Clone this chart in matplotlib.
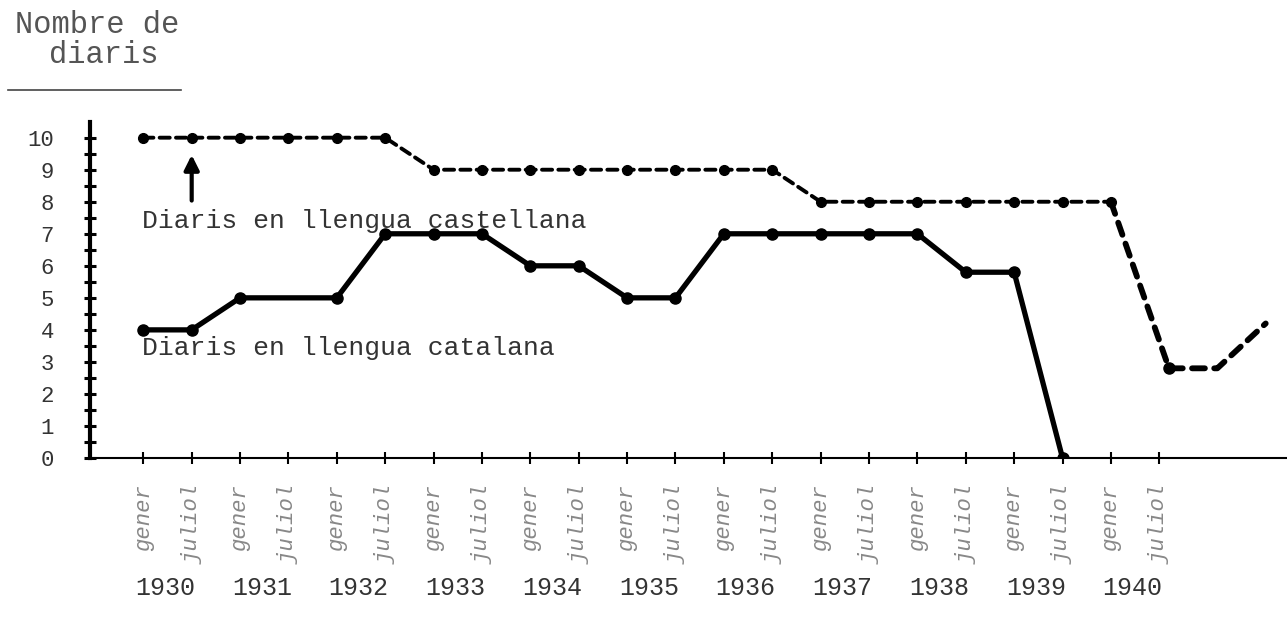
import matplotlib
matplotlib.use('Agg')
import numpy as np
from matplotlib import pyplot as plt
from matplotlib.lines import Line2D

# data (x = half-year index, 0 = gener 1930)
months = ['gener', 'juliol'] * 11
years = ['1930', '1931', '1932', '1933', '1934', '1935', '1936', '1937', '1938', '1939', '1940']

cast_x = [0, 1, 2, 3, 4, 5, 6, 7, 8, 9, 10, 11, 12, 13, 14, 15, 16, 17, 18, 19, 20]
cast_y = [10, 10, 10, 10, 10, 10, 9, 9, 9, 9, 9, 9, 9, 9, 8, 8, 8, 8, 8, 8, 8]
# tail of the castellana line after gener 1940 (drawn in heavier dashes)
tail_x = [20, 21.2, 22.2, 23.2]
tail_y = [8, 2.8, 2.8, 4.2]

cat_x = [0, 1, 2, 4, 5, 6, 7, 8, 9, 10, 11, 12, 13, 14, 15, 16, 17, 18, 19]
cat_y = [4, 4, 5, 5, 7, 7, 7, 6, 6, 5, 5, 7, 7, 7, 7, 7, 5.8, 5.8, 0]

mono = 'Liberation Mono'

fig = plt.figure(figsize=(12.87, 6.37), dpi=100)
ax = fig.add_axes([0.070, 0.281, 0.930, 0.528])

ax.plot(cast_x, cast_y, color='k', lw=2.8, ls=(0, (2.6, 1.6)),
        marker='o', ms=7, solid_capstyle='round', dash_capstyle='round')
ax.plot(tail_x, tail_y, color='k', lw=4.2, ls=(0, (2.2, 1.6)),
        marker='o', ms=8, markevery=[1], dash_capstyle='round')
ax.plot(cat_x, cat_y, color='k', lw=3.8, marker='o', ms=8,
        solid_capstyle='round', solid_joinstyle='round')

ax.set_xlim(-1.1, 23.64)
ax.set_ylim(0, 10.5)

for s in ['top', 'right']:
    ax.spines[s].set_visible(False)
ax.spines['left'].set_linewidth(3)
ax.spines['bottom'].set_linewidth(1.5)

ax.set_yticks(range(11), labels=[str(v) for v in range(11)])
ax.set_yticks(np.arange(0.5, 10.5, 1), minor=True)
ax.tick_params(axis='y', which='both', direction='inout', length=8, width=2.2,
               pad=22, labelsize=16, labelcolor='#333')
for t in ax.get_yticklabels():
    t.set_fontfamily(mono)

ax.set_xticks(range(len(months)), labels=months)
ax.tick_params(axis='x', direction='inout', length=9, width=1.5, pad=14,
               labelsize=16, labelcolor='#888')
for t in ax.get_xticklabels():
    t.set_rotation(90)
    t.set_fontfamily(mono)
    t.set_fontstyle('italic')

for k, yr in enumerate(years):
    ax.text(2 * k + 0.45, -0.387, yr, transform=ax.get_xaxis_transform(),
            ha='center', va='center', fontsize=18, family=mono,
            color='#333')

ax.text(-0.02, 7.19, 'Diaris en llengua castellana', ha='left', va='baseline',
        fontsize=19, family=mono, color='#333')
ax.text(-0.02, 3.22, 'Diaris en llengua catalana', ha='left', va='baseline',
        fontsize=19, family=mono, color='#333')
ax.annotate('', xy=(1, 9.55), xytext=(1, 7.95),
            arrowprops=dict(arrowstyle='-|>', lw=3, color='k', mutation_scale=22))

fig.text(0.0754, 0.961, 'Nombre de', ha='center', va='center', fontsize=22,
         family=mono, color='#555')
fig.text(0.081, 0.914, 'diaris', ha='center', va='center', fontsize=22,
         family=mono, color='#555')
fig.add_artist(Line2D([0.006, 0.141], [0.859, 0.859], color='#444', lw=1.2))

fig.savefig('out.png', dpi=100)
